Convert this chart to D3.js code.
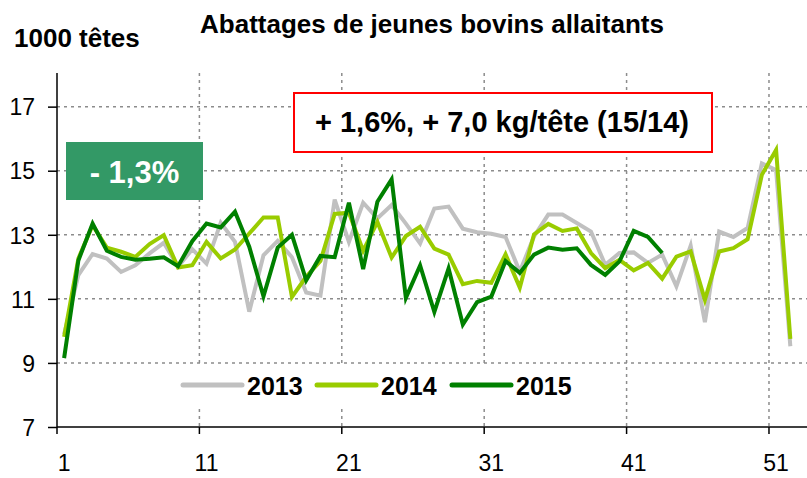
<!DOCTYPE html>
<html>
<head>
<meta charset="utf-8">
<script src="https://cdn.jsdelivr.net/npm/d3@7"></script>
<style>
  body { margin: 0; background: #fff; }
  text { font-family: "Liberation Sans", Arial, sans-serif; }
</style>
</head>
<body>
<div id="chart"></div>
<script>
// Weekly data, 1000 heads
var weeks = d3.range(1, 54);
var tickWeeks = [1, 11, 21, 31, 41, 51];
var yTicks = [7, 9, 11, 13, 15, 17];

var values2013 = [9.9, 11.74, 12.4, 12.26, 11.84, 12.05, 12.42, 12.75, 12.0, 12.55,
  12.1, 13.38, 12.78, 10.6, 12.36, 12.81, 12.3, 11.2, 11.1, 14.1,
  12.78, 14.0, 13.51, 13.93, 13.35, 12.73, 13.82, 13.88, 13.19, 13.08,
  13.03, 12.93, 11.85, 12.95, 13.63, 13.63, 13.37, 13.1, 12.06, 12.43,
  12.45, 12.12, 12.38, 11.39, 12.66, 10.27, 13.1, 12.93, 13.21, 15.23,
  15.02, 9.52];
var values2014 = [9.81, 12.26, 13.3, 12.6, 12.47, 12.31, 12.71, 12.99, 11.98, 12.05,
  12.78, 12.26, 12.54, 13.04, 13.54, 13.54, 11.06, 11.69, 12.18, 13.65,
  13.69, 12.5, 13.4, 12.29, 12.96, 13.25, 12.57, 12.38, 11.46, 11.56,
  11.5, 12.39, 11.35, 13.01, 13.34, 13.12, 13.2, 12.43, 11.96, 12.22,
  11.89, 12.12, 11.63, 12.32, 12.48, 10.97, 12.48, 12.58, 12.86, 14.87,
  15.65, 9.75];
var values2015 = [9.15, 12.2, 13.35, 12.5, 12.31, 12.22, 12.25, 12.3, 12.02, 12.8,
  13.35, 13.23, 13.72, 12.63, 11.08, 12.6, 13.0, 11.58, 12.34, 12.3,
  14.0, 11.93, 14.03, 14.73, 11.03, 12.04, 10.59, 11.95, 10.2, 10.9,
  11.07, 12.18, 11.81, 12.38, 12.6, 12.53, 12.58, 12.06, 11.75, 12.17,
  13.12, 12.93, 12.43];

var seriesNames = ["2013", "2014", "2015"];
var seriesColors = ["#c0c0c0", "#99cc00", "#008000"];
var seriesValues = [values2013, values2014, values2015];

var svgWidth = 807;
var svgHeight = 478;

var plot = { left: 57, right: 811.7, top: 73, bottom: 427 };

var svg = d3.select("#chart")
  .append("svg")
  .attr("width", svgWidth)
  .attr("height", svgHeight);

// Scales
var xBand = d3.scaleBand()
  .domain(weeks)
  .range([plot.left, plot.right])
  .paddingInner(0)
  .paddingOuter(0);
var xMid = w => xBand(w) + xBand.bandwidth() / 2;

var yScale = d3.scaleLinear()
  .domain([7, 18.05])
  .range([plot.bottom, plot.top]);

// Gridlines
var grid = svg.append("g")
  .attr("stroke", "#8c8c8c")
  .attr("stroke-width", 1.5)
  .attr("stroke-dasharray", "3,4");

grid.selectAll(".hgrid")
  .data(yTicks.filter(d => d > 7))
  .enter()
  .append("line")
  .attr("x1", plot.left)
  .attr("x2", svgWidth)
  .attr("y1", d => yScale(d))
  .attr("y2", d => yScale(d));

grid.selectAll(".vgrid")
  .data(tickWeeks.filter(d => d > 1))
  .enter()
  .append("line")
  .attr("x1", d => xBand(d))
  .attr("x2", d => xBand(d))
  .attr("y1", plot.top)
  .attr("y2", plot.bottom);

// Legend background hides the grid behind it
svg.append("rect")
  .attr("x", 172)
  .attr("y", 367)
  .attr("width", 412)
  .attr("height", 38)
  .attr("fill", "#fff");

// Axes
var leftAxis = d3.axisLeft(yScale)
  .tickValues(yTicks)
  .tickSize(9)
  .tickPadding(13);
var yAxis = svg.append("g")
  .attr("transform", `translate(${plot.left}, 0)`)
  .call(leftAxis);
yAxis.select(".domain").remove();
yAxis.append("line")
  .attr("x1", 0).attr("x2", 0)
  .attr("y1", plot.top).attr("y2", plot.bottom)
  .attr("stroke", "#000").attr("stroke-width", 1.5);
yAxis.selectAll(".tick line").attr("stroke-width", 1.5);
yAxis.selectAll("text")
  .attr("font-size", 23)
  .attr("fill", "#000")
  .attr("dy", "0.36em");

var xAxisG = svg.append("g")
  .attr("transform", `translate(0, ${plot.bottom})`);
xAxisG.append("line")
  .attr("x1", plot.left).attr("x2", svgWidth)
  .attr("stroke", "#000").attr("stroke-width", 1.5);
xAxisG.selectAll(".xtick")
  .data(tickWeeks)
  .enter()
  .append("line")
  .attr("x1", d => xBand(d)).attr("x2", d => xBand(d))
  .attr("y1", 0).attr("y2", 7)
  .attr("stroke", "#000").attr("stroke-width", 1.5);
xAxisG.selectAll(".xlabel")
  .data(tickWeeks)
  .enter()
  .append("text")
  .attr("x", d => xMid(d))
  .attr("y", 44)
  .attr("text-anchor", "middle")
  .attr("font-size", 23)
  .text(d => d);

// Lines
var line = d3.line()
  .x((d, i) => xMid(weeks[i]))
  .y(d => yScale(d));

svg.selectAll(".series")
  .data(seriesValues)
  .enter()
  .append("path")
  .attr("d", d => line(d))
  .attr("fill", "none")
  .attr("stroke", (d, i) => seriesColors[i])
  .attr("stroke-width", 4)
  .attr("stroke-linejoin", "miter");

// Legend
var legendX = [183, 317, 452];
var legend = svg.selectAll(".legend")
  .data(seriesNames)
  .enter()
  .append("g")
  .attr("transform", (d, i) => `translate(${legendX[i]}, 385)`);
legend.append("line")
  .attr("x1", 0).attr("x2", 59)
  .attr("stroke", (d, i) => seriesColors[i])
  .attr("stroke-width", 5)
  .attr("stroke-linecap", "round");
legend.append("text")
  .attr("x", 64)
  .attr("y", 10)
  .attr("font-size", 25)
  .attr("font-weight", "bold")
  .text(d => d);

// Titles
svg.append("text")
  .attr("x", 432)
  .attr("y", 33)
  .attr("text-anchor", "middle")
  .attr("font-size", 26)
  .attr("font-weight", "bold")
  .text("Abattages de jeunes bovins allaitants");

svg.append("text")
  .attr("x", 14)
  .attr("y", 47)
  .attr("font-size", 26)
  .attr("font-weight", "bold")
  .text("1000 têtes");

// Annotation boxes
svg.append("rect")
  .attr("x", 66).attr("y", 142)
  .attr("width", 137).attr("height", 58)
  .attr("fill", "#339966");
svg.append("text")
  .attr("x", 134.5).attr("y", 183)
  .attr("text-anchor", "middle")
  .attr("font-size", 31)
  .attr("font-weight", "bold")
  .attr("fill", "#fff")
  .text("- 1,3%");

svg.append("rect")
  .attr("x", 294).attr("y", 93)
  .attr("width", 418).attr("height", 59)
  .attr("fill", "#fff")
  .attr("stroke", "#ff0000")
  .attr("stroke-width", 2);
svg.append("text")
  .attr("x", 502).attr("y", 132)
  .attr("text-anchor", "middle")
  .attr("font-size", 29)
  .attr("font-weight", "bold")
  .text("+ 1,6%, + 7,0 kg/tête (15/14)");
</script>
</body>
</html>
